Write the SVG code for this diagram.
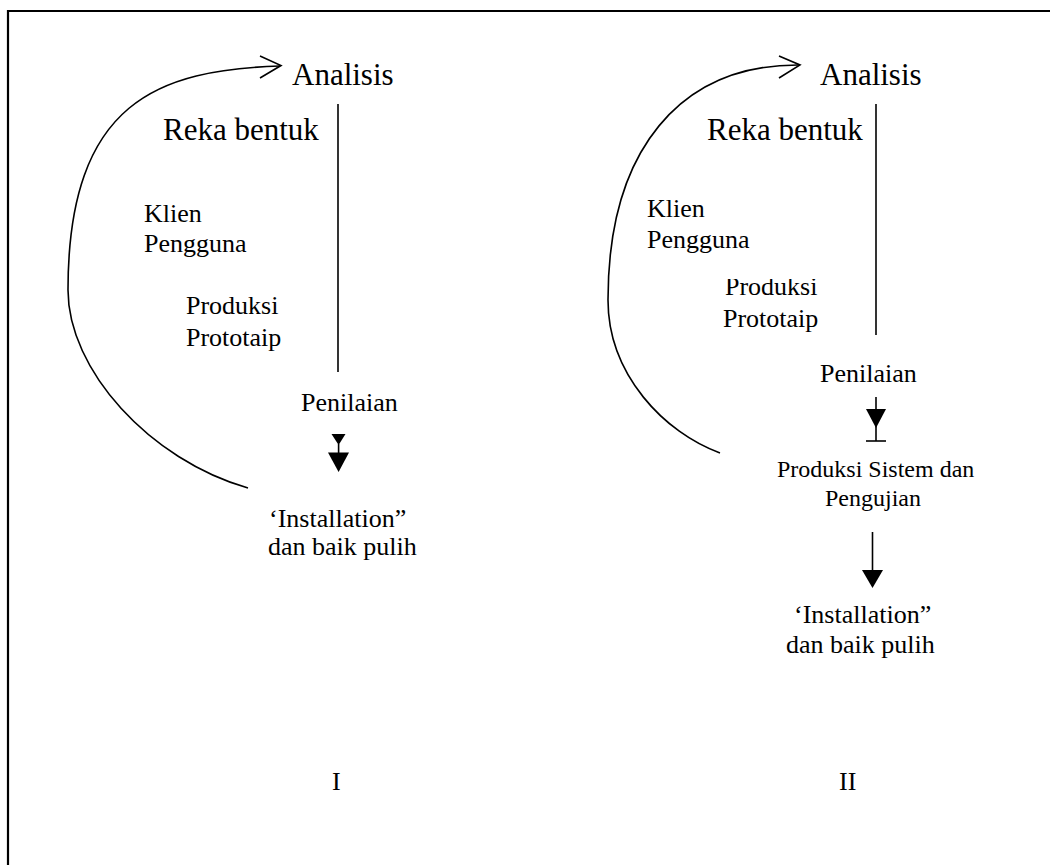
<svg xmlns="http://www.w3.org/2000/svg" width="1050" height="865" viewBox="0 0 1050 865">
<style>
text{font-family:'Liberation Serif','DejaVu Serif',serif;fill:#000}
.big{font-size:31px}
.sm{font-size:26px}
.md{font-size:24px}
.ln{stroke:#000;stroke-width:1.6;fill:none}
.fill{fill:#000;stroke:none}
</style>
<defs>
<clipPath id="cutTop"><rect x="700" y="279" width="150" height="30"/></clipPath>
</defs>
<rect x="0" y="0" width="1050" height="865" fill="#fff"/>
<g id="frame">
<line class="ln" x1="8" y1="11" x2="1050" y2="11" style="stroke-width:2.2"/>
<line class="ln" x1="8" y1="10" x2="8" y2="865" style="stroke-width:2.2"/>
</g>
<g id="connectors">
<path class="ln" d="M248,488 C150,460 68,370 68,290 C68,100 160,70 280,66"/>
<path class="ln" d="M260,56 L281,65.5 L260,78"/>
<line class="ln" x1="338" y1="104" x2="338" y2="372"/>
<polygon class="fill" points="331.5,434 345.5,434 338.6,445"/>
<line class="ln" x1="338.6" y1="444" x2="338.6" y2="453"/>
<polygon class="fill" points="328,452.5 349,452.5 338.6,472"/>
<path class="ln" d="M720,453 C665,433 608,375 608,300 C608,150 680,64 800,65"/>
<path class="ln" d="M779,56 L800,65 L779,78"/>
<line class="ln" x1="876" y1="104" x2="876" y2="335"/>
<line class="ln" x1="876" y1="397" x2="876" y2="441"/>
<polygon class="fill" points="866,409 886,409 876,428"/>
<line class="ln" x1="866" y1="441" x2="886" y2="441"/>
<line class="ln" x1="872.5" y1="532" x2="872.5" y2="572"/>
<polygon class="fill" points="862,570 883,570 872.5,588"/>
</g>
<g id="diagram-I">
<g id="n-analisis-1"><text class="big" x="292" y="85">Analisis</text></g>
<g id="n-reka-1"><text class="big" x="163" y="140">Reka bentuk</text></g>
<g id="n-klien-1"><text class="sm" x="144" y="222">Klien</text><text class="sm" x="144" y="252">Pengguna</text></g>
<g id="n-produksi-1"><text class="sm" x="186" y="314">Produksi</text><text class="sm" x="186" y="346">Prototaip</text></g>
<g id="n-penilaian-1"><text class="sm" x="301" y="411">Penilaian</text></g>
<g id="n-install-1"><text class="sm" x="269" y="527">‘Installation”</text><text class="sm" x="268" y="555">dan baik pulih</text></g>
<g id="n-label-1"><text class="sm" x="332" y="790">I</text></g>
</g>
<g id="diagram-II">
<g id="n-analisis-2"><text class="big" x="820" y="85">Analisis</text></g>
<g id="n-reka-2"><text class="big" x="707" y="140">Reka bentuk</text></g>
<g id="n-klien-2"><text class="sm" x="647" y="217">Klien</text><text class="sm" x="647" y="248">Pengguna</text></g>
<g id="n-produksi-2"><text class="sm" x="725" y="295" clip-path="url(#cutTop)">Produksi</text><text class="sm" x="723" y="327">Prototaip</text></g>
<g id="n-penilaian-2"><text class="sm" x="820" y="382">Penilaian</text></g>
<g id="n-sistem-2"><text class="md" x="777" y="477">Produksi Sistem dan</text><text class="md" x="825" y="506">Pengujian</text></g>
<g id="n-install-2"><text class="sm" x="794" y="623">‘Installation”</text><text class="sm" x="786" y="653">dan baik pulih</text></g>
<g id="n-label-2"><text class="sm" x="839" y="790">II</text></g>
</g>
</svg>
